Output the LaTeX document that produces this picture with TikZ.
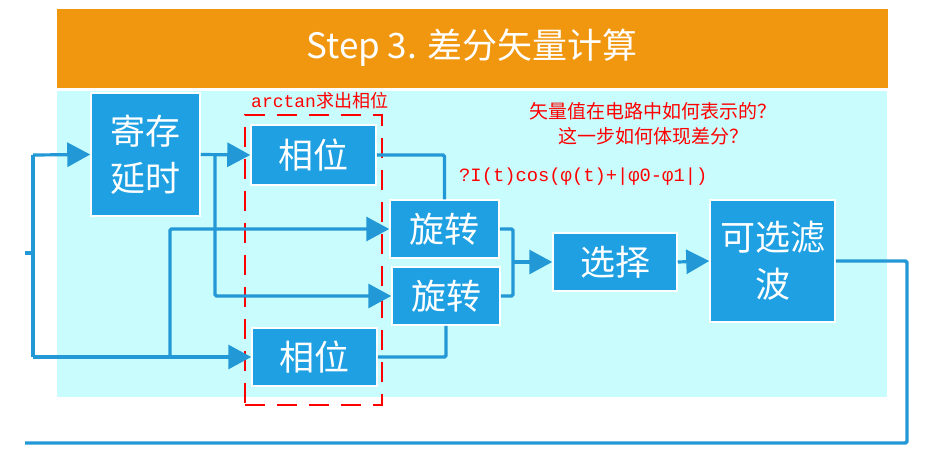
\documentclass[tikz,border=0pt]{standalone}
\usepackage{fontspec}
\usepackage{tikz}
\usetikzlibrary{arrows.meta,positioning,calc}
\newfontfamily\cjk{Noto Sans CJK SC}
\newfontfamily\monof{Liberation Mono}
\definecolor{barorange}{HTML}{F0970F}
\definecolor{bgcyan}{HTML}{C8FCFD}
\definecolor{boxblue}{HTML}{1EA0E2}
\definecolor{wireblue}{HTML}{2398D6}

\begin{document}
\begin{tikzpicture}[
    x=1pt, y=-1pt,
    block/.style={rectangle, fill=boxblue, draw=white, line width=1.5pt,
                  text=white, align=center, inner sep=0pt,
                  font=\cjk\fontsize{35}{47}\selectfont},
    wire/.style={draw=wireblue, line width=3.2pt, rounded corners=1.5pt},
    arrow/.style={wire, -{Triangle[length=23pt, width=24pt]}},
    note/.style={text=red, inner sep=0pt, font=\cjk\fontsize{19}{25}\selectfont}
  ]
    \useasboundingbox (0,0) rectangle (930,463);
    % background panels
    \fill[barorange] (57,9) rectangle (888,88);
    \fill[bgcyan] (57,91) rectangle (887,397);
    \node[text=white, font=\cjk\fontsize{35}{40}\selectfont] (title) at (472,48) {Step 3. 差分矢量计算};

    \node[block, minimum width=109, minimum height=123] (reg) at (145.5,154.5) {寄存\\延时};
    \node[block, minimum width=125, minimum height=60] (phaseA) at (313.5,155) {相位};
    \node[block, minimum width=125, minimum height=58] (phaseB) at (314.5,357) {相位};
    \node[block, minimum width=109, minimum height=58] (rotA) at (444.5,229) {旋转};
    \node[block, minimum width=108, minimum height=58] (rotB) at (446,296) {旋转};
    \node[block, minimum width=124, minimum height=58] (sel) at (615,262) {选择};
    \node[block, minimum width=125, minimum height=122] (filt) at (772.5,261) {可选滤\\波};

    % dashed group and notes
    \node[draw=red, line width=2.6pt, dash pattern=on 20pt off 12pt,
          minimum width=137, minimum height=290, inner sep=0pt] (grp) at (313.5,260) {};
    \node[note, font=\fontsize{18}{22}\selectfont, anchor=west] (lbl) at (251,101)
         {{\monof arctan}{\cjk 求出相位}};
    \node[note, align=center] (ask) at (653,124) {矢量值在电路中如何表示的？\\这一步如何体现差分？};
    \node[note, font=\monof\fontsize{18.8}{22}\selectfont, anchor=west] (fml) at (459,177)
         {?I(t)cos(φ(t)+|φ0-φ1|)};

    % junction points
    \coordinate (inL) at (25,253);
    \coordinate (inV) at (33,253);
    \coordinate (lt) at (33,155);
    \coordinate (lb) at (33,357);
    \coordinate (brA) at (170,357);
    \coordinate (brB) at (215,155);
    \coordinate (mrg) at (513,262);
    \coordinate (fbR) at (907,443);
    \coordinate (fbL) at (25,443);

    \draw[wire] (inL) -- (inV);
    \draw[wire] (lt) -- (lb);
    \draw[arrow] (lt) -- (reg.west);
    \draw[arrow] (lb) -- (phaseB.west);
    \draw[arrow] (brA) |- (rotA.west);
    \draw[arrow] (reg.east) -- (phaseA.west);
    \draw[arrow] (brB) |- (rotB.west);
    \draw[wire] (phaseA.east) -| (rotA.north);
    \draw[wire] (phaseB.east) -| (rotB.south);
    \draw[wire] (rotA.east) -| (mrg) |- (rotB.east);
    \draw[arrow] (mrg) -- (sel.west);
    \draw[arrow] (sel.east) -- (filt.west);
    \draw[wire] (filt.east) -| (fbR) -- (fbL);
  \end{tikzpicture}
\end{document}
